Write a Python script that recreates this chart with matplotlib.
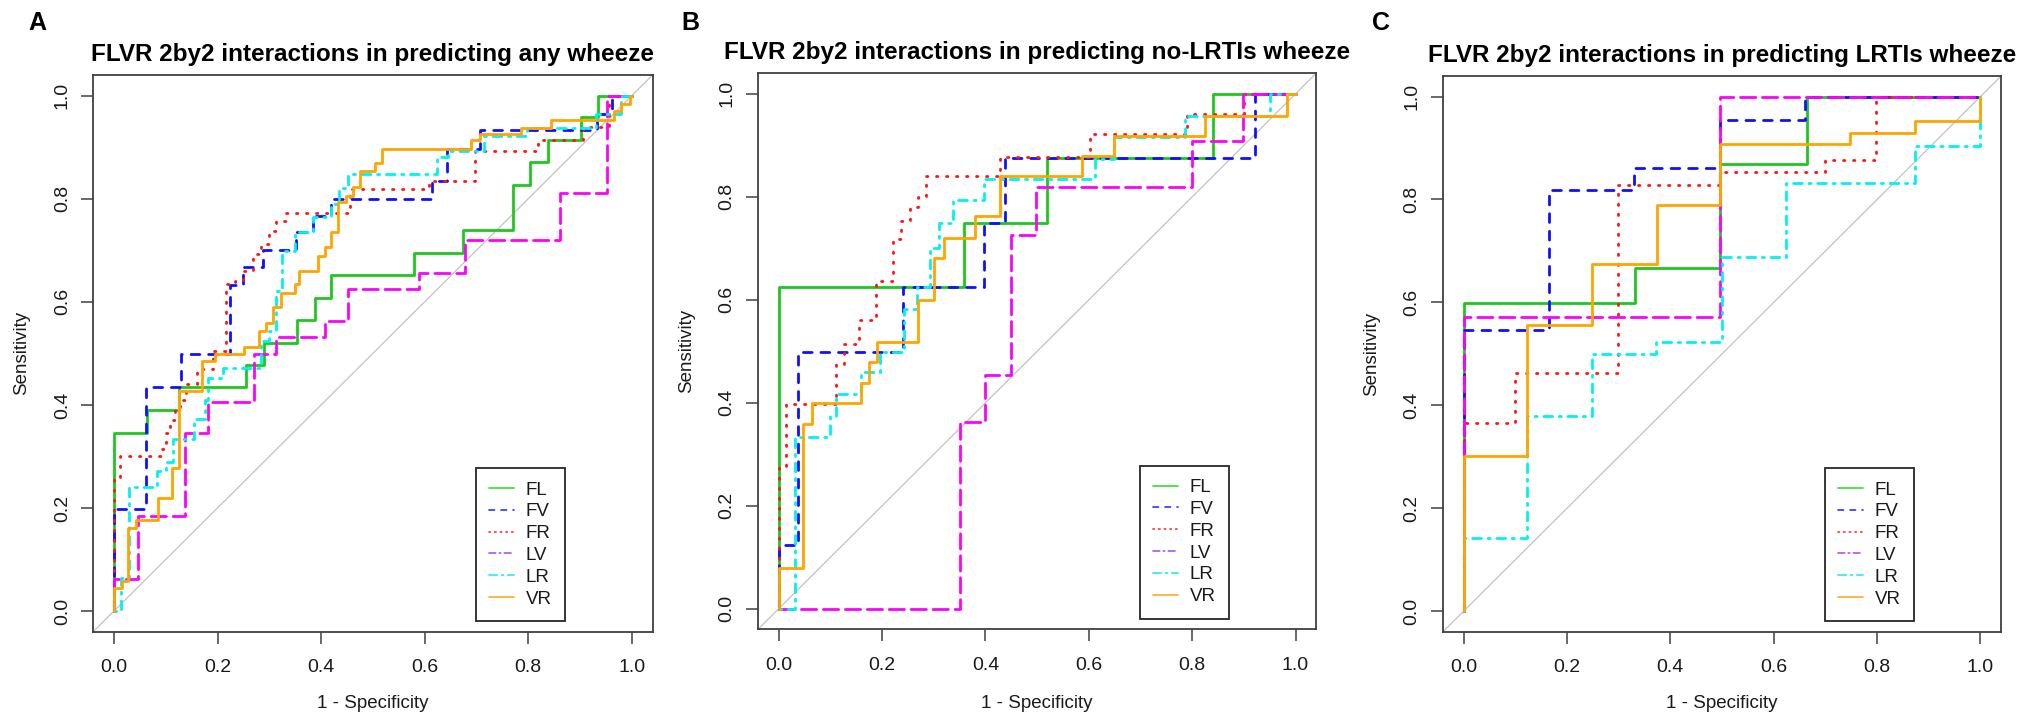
import matplotlib
matplotlib.use("Agg")
import matplotlib.pyplot as plt
from matplotlib.lines import Line2D

plt.rcParams["font.family"] = ["Liberation Sans", "DejaVu Sans"]

# ---------------------------------------------------------------------------
# ROC step coordinates (1 - specificity, sensitivity); each point is the right
# end of a horizontal run, reached by a vertical rise at the previous x.
# ---------------------------------------------------------------------------
series_names = ["FL", "FV", "FR", "LV", "LR", "VR"]

titles = [
    "FLVR 2by2 interactions in predicting any wheeze",
    "FLVR 2by2 interactions in predicting no-LRTIs wheeze",
    "FLVR 2by2 interactions in predicting LRTIs wheeze",
]
panel_letters = ["A", "B", "C"]

tick_values = [0.0, 0.2, 0.4, 0.6, 0.8, 1.0]
tick_labels = ["0.0", "0.2", "0.4", "0.6", "0.8", "1.0"]

# Panel A: any wheeze
A_FL_fpr = [0, 0.064, 0.126, 0.255, 0.29, 0.353, 0.388, 0.419, 0.58, 0.674, 0.771, 0.804, 0.838, 0.902, 0.935, 1.0]
A_FL_tpr = [0, 0.346, 0.39, 0.434, 0.477, 0.521, 0.564, 0.608, 0.652, 0.695, 0.739, 0.827, 0.871, 0.913, 0.958, 1.0]
A_FV_fpr = [0, 0.062, 0.129, 0.224, 0.249, 0.287, 0.352, 0.384, 0.42, 0.614, 0.643, 0.706, 0.933, 0.962, 1.0]
A_FV_tpr = [0, 0.199, 0.435, 0.498, 0.633, 0.668, 0.70, 0.735, 0.767, 0.799, 0.835, 0.896, 0.933, 0.965, 1.0]
A_FR_fpr = [0, 0.012, 0.091, 0.100, 0.108, 0.118, 0.128, 0.140, 0.160, 0.191, 0.217, 0.233, 0.249, 0.268,
            0.284, 0.300, 0.313, 0.333, 0.455, 0.609, 0.697, 0.819, 0.905, 0.955, 1.0]
A_FR_tpr = [0, 0.26, 0.301, 0.315, 0.345, 0.370, 0.390, 0.410, 0.440, 0.470, 0.505, 0.634, 0.641, 0.660,
            0.693, 0.712, 0.738, 0.757, 0.773, 0.819, 0.835, 0.893, 0.913, 0.940, 1.0]
A_LV_fpr = [0, 0.046, 0.137, 0.181, 0.271, 0.313, 0.407, 0.452, 0.589, 0.678, 0.861, 0.952, 1.0]
A_LV_tpr = [0, 0.063, 0.184, 0.346, 0.405, 0.498, 0.531, 0.563, 0.625, 0.655, 0.72, 0.812, 1.0]
A_LR_fpr = [0, 0.013, 0.029, 0.084, 0.100, 0.115, 0.155, 0.175, 0.181, 0.210, 0.284, 0.300, 0.313,
            0.325, 0.349, 0.384, 0.420, 0.435, 0.452, 0.623, 0.645, 0.714, 0.798, 0.930, 0.979, 1.0]
A_LR_tpr = [0, 0.0, 0.065, 0.241, 0.272, 0.290, 0.333, 0.372, 0.410, 0.453, 0.472, 0.524, 0.544,
            0.621, 0.699, 0.735, 0.764, 0.790, 0.820, 0.848, 0.880, 0.893, 0.922, 0.937, 0.965, 1.0]
A_VR_fpr = [0, 0.015, 0.028, 0.042, 0.086, 0.112, 0.126, 0.170, 0.196, 0.251, 0.281, 0.294, 0.307,
            0.323, 0.349, 0.358, 0.394, 0.407, 0.420, 0.433, 0.449, 0.462, 0.475, 0.505, 0.518,
            0.689, 0.706, 0.786, 0.844, 0.966, 0.979, 0.996, 1.0]
A_VR_tpr = [0, 0.044, 0.058, 0.162, 0.176, 0.220, 0.278, 0.426, 0.485, 0.498, 0.513, 0.544, 0.558,
            0.589, 0.618, 0.634, 0.660, 0.689, 0.707, 0.735, 0.793, 0.806, 0.822, 0.854, 0.869,
            0.896, 0.913, 0.925, 0.937, 0.953, 0.970, 0.984, 1.0]

# Panel B: no-LRTIs wheeze
B_FL_fpr = [0, 0.358, 0.52, 0.84, 1.0]
B_FL_tpr = [0, 0.625, 0.75, 0.876, 1.0]
B_FV_fpr = [0, 0.038, 0.24, 0.398, 0.437, 0.922, 1.0]
B_FV_tpr = [0, 0.123, 0.498, 0.625, 0.749, 0.876, 1.0]
B_FR_fpr = [0, 0.0136, 0.111, 0.127, 0.156, 0.188, 0.221, 0.237, 0.253, 0.269, 0.285, 0.428, 0.602, 0.79, 0.90, 1.0]
B_FR_tpr = [0, 0.278, 0.398, 0.476, 0.515, 0.56, 0.637, 0.718, 0.754, 0.78, 0.80, 0.841, 0.877, 0.922, 0.96, 1.0]
B_LV_fpr = [0, 0.35, 0.40, 0.45, 0.498, 0.80, 0.899, 1.0]
B_LV_tpr = [0, 0.0, 0.362, 0.453, 0.726, 0.819, 0.908, 1.0]
B_LR_fpr = [0, 0.032, 0.10, 0.11, 0.159, 0.195, 0.242, 0.268, 0.292, 0.31, 0.337, 0.398, 0.612, 0.648, 0.787, 0.951, 1.0]
B_LR_tpr = [0, 0.0, 0.333, 0.375, 0.417, 0.46, 0.498, 0.583, 0.625, 0.70, 0.75, 0.793, 0.835, 0.874, 0.917, 0.957, 1.0]
B_VR_fpr = [0, 0.047, 0.064, 0.159, 0.175, 0.19, 0.269, 0.301, 0.319, 0.379, 0.429, 0.586, 0.648, 0.825, 0.983, 1.0]
B_VR_tpr = [0, 0.08, 0.358, 0.40, 0.438, 0.48, 0.519, 0.599, 0.682, 0.72, 0.762, 0.84, 0.88, 0.919, 0.958, 1.0]

# Panel C: LRTIs wheeze
C_FL_fpr = [0, 0.331, 0.496, 0.664, 1.0]
C_FL_tpr = [0, 0.599, 0.667, 0.869, 1.0]
C_FV_fpr = [0, 0.166, 0.33, 0.496, 0.661, 1.0]
C_FV_tpr = [0, 0.547, 0.819, 0.862, 0.955, 1.0]
C_FR_fpr = [0, 0.099, 0.299, 0.496, 0.70, 0.798, 1.0]
C_FR_tpr = [0, 0.366, 0.463, 0.829, 0.854, 0.877, 1.0]
C_LV_fpr = [0, 0.496, 1.0]
C_LV_tpr = [0, 0.572, 1.0]
C_LR_fpr = [0, 0.123, 0.249, 0.373, 0.499, 0.624, 0.874, 1.0, 1.0]
C_LR_tpr = [0, 0.142, 0.38, 0.50, 0.523, 0.689, 0.833, 0.903, 1.0]
C_VR_fpr = [0, 0.123, 0.249, 0.375, 0.496, 0.747, 0.874, 1.0, 1.0]
C_VR_tpr = [0, 0.302, 0.557, 0.674, 0.79, 0.907, 0.93, 0.953, 1.0]

panels = [
    [(A_FL_fpr, A_FL_tpr), (A_FV_fpr, A_FV_tpr), (A_FR_fpr, A_FR_tpr),
     (A_LV_fpr, A_LV_tpr), (A_LR_fpr, A_LR_tpr), (A_VR_fpr, A_VR_tpr)],
    [(B_FL_fpr, B_FL_tpr), (B_FV_fpr, B_FV_tpr), (B_FR_fpr, B_FR_tpr),
     (B_LV_fpr, B_LV_tpr), (B_LR_fpr, B_LR_tpr), (B_VR_fpr, B_VR_tpr)],
    [(C_FL_fpr, C_FL_tpr), (C_FV_fpr, C_FV_tpr), (C_FR_fpr, C_FR_tpr),
     (C_LV_fpr, C_LV_tpr), (C_LR_fpr, C_LR_tpr), (C_VR_fpr, C_VR_tpr)],
]

# ---------------------------------------------------------------------------
# Styles
# ---------------------------------------------------------------------------
curve_style = {
    "FL": ("#1ec81e", None),
    "FV": ("#1010ff", [3.16, 3.16]),
    "FR": ("#ff1414", [0.5, 3.1]),
    "LV": ("#ff00ff", [5.5, 2.4]),
    "LR": ("#00f2f2", [0.79, 2.37, 3.16, 2.37]),
    "VR": ("#ffa500", None),
}
key_style = {
    "FL": ("#33dd33", None),
    "FV": ("#3030ff", [3.3, 3.9]),
    "FR": ("#ff3030", [0.8, 2.6]),
    "LV": ("#a855f0", [4.0, 2.2, 0.8, 2.2]),
    "LR": ("#22eeee", [5.0, 2.5, 1.2, 2.5]),
    "VR": ("#ffaa22", None),
}

box_color = "#404040"
text_color = "#1a1a1a"

W, H = 2035, 719
fig = plt.figure(figsize=(W / 100, H / 100), dpi=100)
fig.patch.set_facecolor("white")

# axes rectangles in pixels: left, top, right, bottom
axes_px = [(93.2, 75.0, 652.6, 631.7), (758.1, 73.3, 1316.2, 629.3), (1443.0, 76.0, 2001.1, 631.7)]
letter_px = [(37, 23), (690, 23), (1381, 23)]

for p, (l, t, r, b) in enumerate(axes_px):
    ax = fig.add_axes([l / W, 1 - b / H, (r - l) / W, (b - t) / H])
    ax.set_xlim(-0.04, 1.04)
    ax.set_ylim(-0.04, 1.04)

    ax.axline((0, 0), (1, 1), color="#c2c2c2", lw=0.9, zorder=1)

    for name, (fpr, tpr) in zip(series_names, panels[p]):
        color, dashes = curve_style[name]
        line, = ax.step(fpr, tpr, where="pre", color=color, lw=2.0, zorder=2,
                        solid_joinstyle="round", dash_joinstyle="round",
                        solid_capstyle="round", dash_capstyle="round")
        if dashes:
            line.set_dashes(dashes)

    for side in ("left", "right", "top", "bottom"):
        ax.spines[side].set_color(box_color)
        ax.spines[side].set_linewidth(1.3)

    ax.set_xticks(tick_values, tick_labels)
    ax.set_yticks(tick_values, tick_labels, rotation=90, va="center")
    ax.tick_params(direction="out", length=8.6, width=1.1, color=box_color,
                   labelsize=14, labelcolor=text_color)
    ax.tick_params(axis="x", pad=11.0)
    ax.tick_params(axis="y", pad=7.5)

    ax.set_xlabel("1 - Specificity", fontsize=13.5, color=text_color, va="center")
    ax.xaxis.set_label_coords(0.5, (b - 703) / (b - t))
    ax.set_ylabel("Sensitivity", fontsize=13.5, color=text_color, va="center")
    ax.yaxis.set_label_coords(-71.5 / (r - l), 0.5)

    ax.set_title(titles[p], fontsize=17.5, fontweight="bold", pad=10.0, color="black")

    handles = []
    for name in series_names:
        color, dashes = key_style[name]
        h = Line2D([], [], color=color, lw=1.2, dash_capstyle="round", solid_capstyle="round")
        if dashes:
            h.set_dashes(dashes)
        handles.append(h)
    leg = ax.legend(handles, series_names, loc="lower left", bbox_to_anchor=(0.684, 0.019),
                    borderaxespad=0, fontsize=13.5, handlelength=1.3, handletextpad=0.65,
                    borderpad=0.72, labelspacing=0.25, fancybox=False, framealpha=1,
                    edgecolor="#262626")
    leg.get_frame().set_linewidth(1.3)
    for txt in leg.get_texts():
        txt.set_color(text_color)

    lx, ly = letter_px[p]
    fig.text(lx / W, 1 - ly / H, panel_letters[p], fontsize=18, fontweight="bold",
             ha="center", va="center", color="black")

fig.savefig("out.png", dpi=100)
